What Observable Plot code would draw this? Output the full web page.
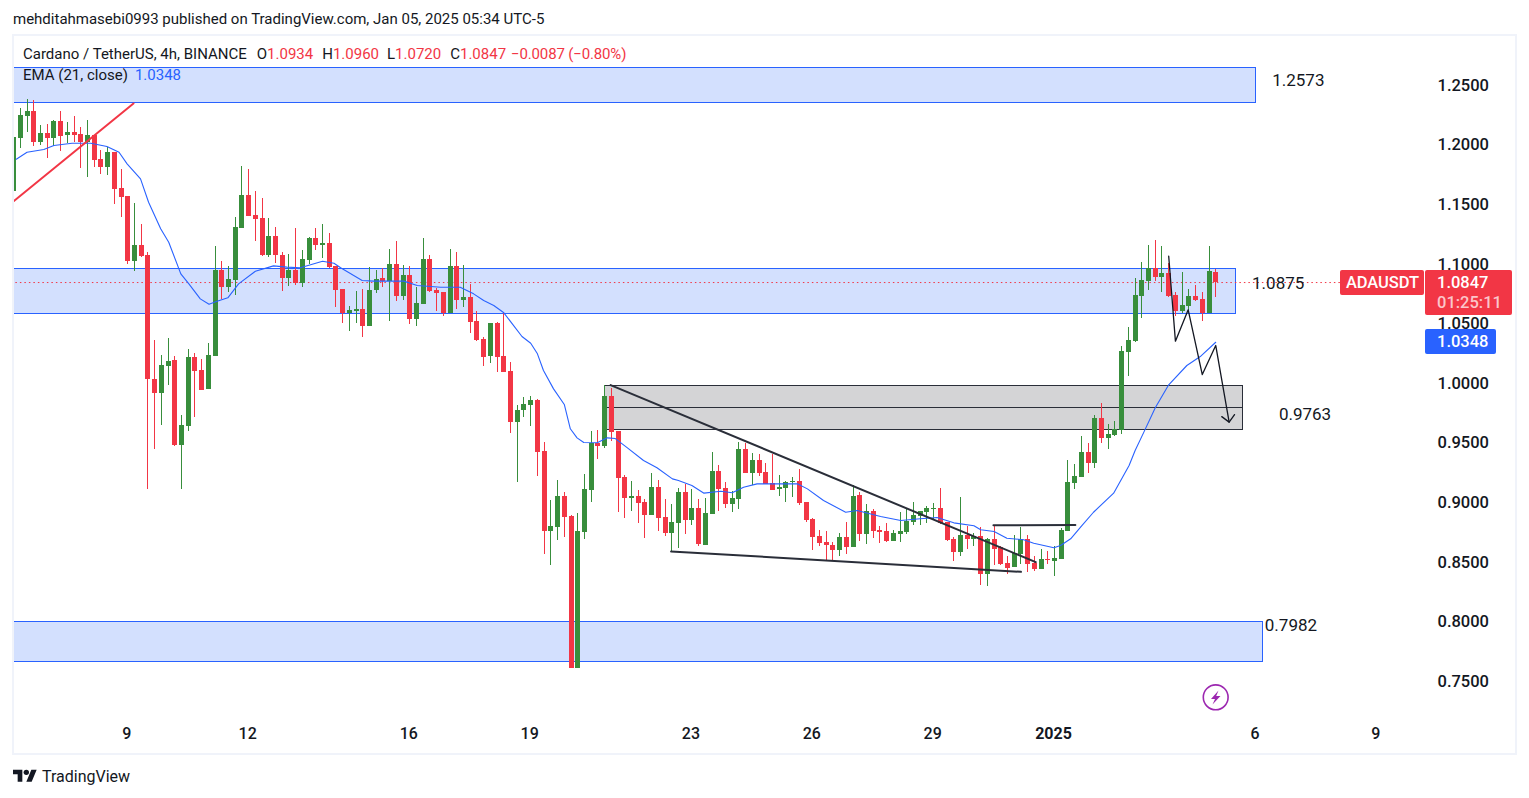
<!DOCTYPE html>
<html>
<head>
<meta charset="utf-8">
<script src="https://cdn.jsdelivr.net/npm/d3@7"></script>
<script src="https://cdn.jsdelivr.net/npm/@observablehq/plot@0.6"></script>
<style>
html,body{margin:0;padding:0;background:#fff;font-family:Roboto,sans-serif;color:#131722;overflow:hidden}
#page{position:relative;width:1529px;height:798px}
#pub{height:34px;line-height:39px;padding-left:13px;font-size:15px;color:#131722;box-sizing:border-box}
#chart{height:720px}
#chart svg{display:block}
#frame{position:absolute;left:12px;top:34px;width:1505px;height:721px;box-sizing:border-box;border:2px solid #f0f3fa;pointer-events:none}
.lg{position:absolute;left:23px;font-size:15px;white-space:pre}
.lg .gap{margin-left:9px}
.tag{position:absolute;box-sizing:border-box;color:#fff;font-size:16.5px;font-weight:500;border-radius:2px;padding-left:12px;background:#f23645}
#foot{position:absolute;left:42px;top:767px;font-size:16px;color:#131722}
</style>
</head>
<body>
<div id="page">
  <div id="pub">mehditahmasebi0993 published on TradingView.com, Jan 05, 2025 05:34 UTC-5</div>
  <div id="chart"></div>
  <div id="frame"></div>
  <div class="lg" style="top:45px">Cardano / TetherUS, 4h, BINANCE<span class="gap" style="margin-left:10px">O</span><span style="color:#f23645">1.0934</span><span class="gap">H</span><span style="color:#f23645">1.0960</span><span class="gap" style="margin-left:8px">L</span><span style="color:#f23645">1.0720</span><span class="gap">C</span><span style="color:#f23645">1.0847</span><span class="gap" style="color:#f23645;margin-left:5px;letter-spacing:-.15px">−0.0087 (−0.80%)</span></div>
  <div class="lg" style="top:66px">EMA (21, close)<span class="gap" style="color:#2962ff;margin-left:7px">1.0348</span></div>
  <div class="tag" style="left:1340px;top:270px;width:84px;height:25px;line-height:25px;padding-left:6px;letter-spacing:-.1px">ADAUSDT</div>
  <div class="tag" style="left:1425px;top:270px;width:87px;height:45px;line-height:19.5px;padding-top:3px"><div>1.0847</div><div style="color:rgba(255,255,255,.72)">01:25:11</div></div>
  <div class="tag" style="left:1425px;top:329px;width:71px;height:25px;line-height:25px;background:#2962ff">1.0348</div>
  <svg style="position:absolute;left:1200px;top:682px" width="32" height="32" viewBox="0 0 32 32"><circle cx="15.7" cy="15.3" r="12.4" fill="none" stroke="#9c27b0" stroke-width="1.6"/><path d="M18.5 8.5 L11 17 L15 17 L12.5 22.5 L20.5 14 L16.2 14 Z" fill="#9c27b0"/></svg>
  <svg style="position:absolute;left:13px;top:767px" width="24" height="18.7" viewBox="0 0 36 28"><path fill="#131722" d="M14 22H7V11H0V4h14v18zM28 22h-8l7.5-18h8L28 22z"/><circle fill="#131722" cx="20" cy="8" r="4"/></svg>
  <div id="foot">TradingView</div>
</div>
<script>
const opens = [1.1611,1.2057,1.2242,1.2282,1.2024,1.2097,1.2058,1.2198,1.2083,1.2106,
1.2089,1.2019,1.2080,1.1879,1.1815,1.1938,1.1636,1.1569,1.1026,1.1158,
1.1074,1.0031,0.9914,1.0145,1.0193,0.9482,0.9642,1.0218,1.0109,0.9952,
1.0229,1.0948,1.0808,1.0864,1.1303,1.1577,1.1409,1.1384,1.1074,1.1233,
1.1074,1.0881,1.0948,1.0841,1.1032,1.1216,1.1158,1.1174,1.0981,1.0788,
1.0585,1.0604,1.0621,1.0478,1.0780,1.0881,1.0856,1.0998,1.0730,1.0906,
1.0537,1.0663,1.1040,1.0780,1.0763,1.0585,1.0981,1.0696,1.0721,1.0520,
1.0369,1.0226,1.0503,1.0226,1.0101,0.9673,0.9773,0.9815,0.9857,0.9430,
0.8759,0.8792,0.9052,0.8884,0.7611,0.8750,0.9102,0.9497,0.9472,0.9891,
0.9597,0.9211,0.9035,0.9052,0.9001,0.8893,0.9128,0.8876,0.8741,0.8826,
0.9085,0.8851,0.8951,0.8641,0.8901,0.9262,0.9119,0.8985,0.9027,0.9446,
0.9245,0.9354,0.9253,0.9161,0.9111,0.9119,0.9169,0.9178,0.9001,0.8859,
0.8716,0.8666,0.8641,0.8599,0.8708,0.8624,0.9060,0.8733,0.8926,0.8767,
0.8759,0.8675,0.8733,0.8750,0.8834,0.8884,0.8918,0.8943,0.8951,0.8834,
0.8691,0.8582,0.8725,0.8691,0.8716,0.8398,0.8691,0.8624,0.8490,0.8457,
0.8565,0.8691,0.8490,0.8440,0.8523,0.8507,0.8523,0.8759,0.9161,0.9211,
0.9421,0.9329,0.9706,0.9541,0.9564,0.9606,1.0260,1.0352,1.0730,1.0856,
1.0965,1.0889,1.0923,1.0738,1.0604,1.0646,1.0730,1.0704,1.0587,1.0934];
const highs = [1.2248,1.2304,1.2382,1.2374,1.2164,1.2172,1.2206,1.2282,1.2189,1.2240,
1.2148,1.2206,1.2080,1.1955,1.1980,1.1938,1.1795,1.1569,1.1510,1.1334,
1.1097,1.0361,1.0232,1.0377,1.0226,0.9732,1.0285,1.0249,1.0199,1.0333,
1.1149,1.1023,1.0981,1.1390,1.1820,1.1795,1.1611,1.1555,1.1384,1.1311,
1.1099,1.1082,1.1300,1.1116,1.1225,1.1303,1.1334,1.1258,1.0981,1.0788,
1.0646,1.0772,1.0788,1.0973,1.0948,1.0965,1.1124,1.1191,1.0990,1.0981,
1.0805,1.1216,1.1074,1.0797,1.0763,1.1124,1.1099,1.0990,1.0830,1.0604,
1.0386,1.0503,1.0511,1.0596,1.0176,0.9815,0.9882,0.9891,0.9866,0.9505,
0.9018,0.9186,0.9085,0.8893,0.8910,0.9236,0.9597,0.9606,0.9983,0.9958,
0.9597,0.9228,0.9178,0.9102,0.9027,0.9245,0.9186,0.9027,0.8985,0.9119,
0.9153,0.9111,0.9027,0.9035,0.9421,0.9312,0.9169,0.9094,0.9505,0.9497,
0.9413,0.9404,0.9329,0.9404,0.9228,0.9178,0.9211,0.9278,0.9001,0.8867,
0.8767,0.8759,0.8666,0.8741,0.8834,0.9144,0.9085,0.8985,0.8943,0.8800,
0.8826,0.8767,0.8918,0.8943,0.9001,0.8926,0.8968,0.8993,0.9119,0.8834,
0.8708,0.9044,0.8800,0.8741,0.8792,0.8700,0.8809,0.8633,0.8549,0.8725,
0.8792,0.8725,0.8549,0.8607,0.8591,0.8633,0.8784,0.9354,0.9320,0.9555,
0.9497,0.9732,0.9832,0.9656,0.9681,1.0310,1.0470,1.0881,1.1015,1.1158,
1.1200,1.1149,1.1007,1.0763,1.0931,1.0788,1.0822,1.0763,1.1149,1.0960];
const lows = [1.1342,1.1974,1.2108,1.1991,1.1997,1.1890,1.1991,1.1949,1.2011,1.2022,
1.1806,1.1731,1.1809,1.1753,1.1745,1.1504,1.1395,1.0998,1.0942,1.1060,
0.9108,0.9444,0.9650,0.9986,0.9472,0.9108,0.9600,0.9717,0.9941,0.9952,
1.0226,1.0702,1.0766,1.0736,1.1303,1.1403,1.1191,1.1068,1.1054,1.1004,
1.0774,1.0814,1.0822,1.0808,1.0998,1.1116,1.1046,1.0962,1.0637,1.0506,
1.0436,1.0503,1.0386,1.0478,1.0757,1.0805,1.0520,1.0688,1.0696,1.0495,
1.0478,1.0663,1.0763,1.0604,1.0562,1.0585,1.0621,1.0637,1.0419,1.0352,
1.0143,1.0168,1.0092,1.0092,0.9580,0.9172,0.9715,0.9639,0.9220,0.8565,
0.8473,0.8683,0.8708,0.7611,0.7611,0.8691,0.9001,0.9362,0.9455,0.9513,
0.8918,0.8867,0.8926,0.8826,0.8700,0.8893,0.8759,0.8716,0.8591,0.8616,
0.8733,0.8809,0.8633,0.8641,0.8901,0.8926,0.8951,0.8918,0.8943,0.9245,
0.9144,0.9220,0.9153,0.9102,0.9052,0.9001,0.9044,0.8977,0.8834,0.8599,
0.8633,0.8515,0.8507,0.8549,0.8565,0.8624,0.8675,0.8650,0.8700,0.8658,
0.8666,0.8675,0.8666,0.8733,0.8809,0.8809,0.8826,0.8851,0.8817,0.8675,
0.8507,0.8549,0.8607,0.8633,0.8305,0.8297,0.8473,0.8473,0.8398,0.8457,
0.8482,0.8415,0.8423,0.8440,0.8482,0.8381,0.8523,0.8759,0.9111,0.9211,
0.9245,0.9287,0.9499,0.9446,0.9555,0.9572,1.0059,1.0344,1.0545,1.0780,
1.0856,1.0763,1.0721,1.0562,1.0587,1.0612,1.0688,1.0520,1.0587,1.0720];
const closes = [1.2063,1.2248,1.2282,1.2024,1.2097,1.2058,1.2198,1.2074,1.2106,1.2083,
1.2019,1.2080,1.1873,1.1815,1.1938,1.1630,1.1563,1.1026,1.1158,1.1068,
1.0031,0.9914,1.0151,1.0184,0.9482,0.9645,1.0218,1.0103,0.9944,1.0235,
1.0948,1.0808,1.0872,1.1309,1.1577,1.1403,1.1376,1.1074,1.1231,1.1074,
1.0881,1.0948,1.0841,1.1040,1.1216,1.1158,1.1174,1.0976,1.0780,1.0585,
1.0612,1.0621,1.0478,1.0780,1.0870,1.0856,1.0998,1.0730,1.0906,1.0537,
1.0671,1.1040,1.0772,1.0755,1.0585,1.0981,1.0696,1.0721,1.0511,1.0361,
1.0218,1.0503,1.0218,1.0092,0.9673,0.9773,0.9824,0.9857,0.9421,0.8759,
0.8800,0.9052,0.8876,0.7611,0.8759,0.9111,0.9497,0.9472,0.9891,0.9589,
0.9203,0.9035,0.9052,0.8993,0.8893,0.9128,0.8867,0.8741,0.8834,0.9085,
0.8851,0.8951,0.8650,0.8910,0.9262,0.9111,0.8985,0.9035,0.9446,0.9245,
0.9354,0.9245,0.9153,0.9102,0.9128,0.9169,0.9178,0.8993,0.8851,0.8708,
0.8658,0.8641,0.8599,0.8708,0.8624,0.9052,0.8733,0.8926,0.8759,0.8750,
0.8675,0.8741,0.8759,0.8842,0.8893,0.8926,0.8951,0.8951,0.8826,0.8683,
0.8582,0.8725,0.8691,0.8716,0.8398,0.8691,0.8607,0.8482,0.8448,0.8574,
0.8691,0.8482,0.8440,0.8523,0.8515,0.8532,0.8767,0.9169,0.9220,0.9421,
0.9329,0.9706,0.9541,0.9572,0.9612,1.0268,1.0361,1.0738,1.0864,1.0965,
1.0889,1.0923,1.0730,1.0604,1.0654,1.0730,1.0696,1.0587,1.0939,1.0847];

const emaBars = [0.4,2,4.5,6,8.7,11.5,13.9,15.7,16.9,18.9,20.1,21.9,23.1,24.9,26.1,27.8,29.1,30.3,31.9,33.5,36,38.7,40.7,42.7,46,47.7,48.7,51.9,53.6,58.1,60.1,63.6,66.5,68.5,70,71.5,73,75.7,77,78,78.9,80.4,82,82.9,83.9,84.9,86.9,88.4,89.6,91.4,93.8,95.8,98.1,99,101,102.8,105.3,107,108.7,110.7,113.7,116.7,118.2,120.6,123.9,125.6,129.1,132.1,135,137.5,140,143,144,146,147.9,150.4,151.9,154.9,155.9,157.4,159.1,160.8,163.8,166.1,167,168.3,170,172,174.7,176.7,179];
const emaValues = [1.1882,1.1940,1.1963,1.1997,1.2016,1.2016,1.1988,1.1940,1.1843,1.1717,1.1521,1.1298,1.1185,1.0920,1.0836,1.0710,1.0665,1.0690,1.0719,1.0836,1.0942,1.0987,1.0976,1.0971,1.1026,1.1009,1.0971,1.0864,1.0859,1.0859,1.0822,1.0808,1.0808,1.0752,1.0696,1.0654,1.0593,1.0394,1.0338,1.0249,1.0109,0.9955,0.9824,0.9620,0.9544,0.9505,0.9503,0.9544,0.9538,0.9460,0.9354,0.9293,0.9200,0.9186,0.9144,0.9080,0.9096,0.9083,0.9130,0.9158,0.9158,0.9158,0.9116,0.9018,0.8920,0.8935,0.8884,0.8851,0.8865,0.8876,0.8831,0.8806,0.8773,0.8758,0.8702,0.8689,0.8660,0.8622,0.8641,0.8697,0.8809,0.8920,0.9080,0.9312,0.9438,0.9592,0.9796,0.9989,1.0151,1.0226,1.0346];

const tickBars = [17,35,59,77,101,119,137,185,203];
const tickDays = ["9","12","16","19","23","26","29","6","9"];
const yearBar = 155;
const priceTicks = [0.75,0.80,0.85,0.90,0.95,1.00,1.05,1.10,1.15,1.20,1.25];
const lastClose = 1.0847;

const blueZones = [
  {x1:-1, x2:185, top:1.2643, bottom:1.2349},
  {x1:-1, x2:182, top:1.0962, bottom:1.0585},
  {x1:-1, x2:186, top:0.8001, bottom:0.7665}
];
const greyZone = {x1:88, x2:183.05, top:0.9983, mid:0.9796, bottom:0.9612};
const levelTexts = [
  {x:191.3, at:1.2540, text:"1.2573"},
  {x:188.3, at:1.0839, text:"1.0875"},
  {x:192.3, at:0.9740, text:"0.9763"},
  {x:190.2, at:0.7970, text:"0.7982"}
];
const redTrend = [[0,1.1529],[17.85,1.2349]];
const fallingTrend = [[88.9,0.9987],[152.2,0.8501]];
const lowerTrend = [[97.9,0.8591],[150,0.8420]];
const breakLine = [[145.9,0.8811],[158.1,0.8812]];
const projection = [[172,1.1068],[173,1.0355],[174.9,1.0618],[177,1.0075],[179,1.0319],[181,0.9676]];
const arrowHead = [[179.9,0.9722],[181,0.9676],[181.8,0.9739]];

const GREEN = "#388e3c", RED = "#f23645", BLUE = "#2962ff", INK = "#2a2e39";
const candles = opens.map((o,i)=>({i,o,h:highs[i],l:lows[i],c:closes[i]}));
const ema = emaBars.map((x,k)=>({x,v:emaValues[k]}));
const col = d => d.c >= d.o ? GREEN : RED;
const seg = (pts,opt) => Plot.line(pts,{x:d=>d[0],y:d=>d[1],clip:"frame",...opt});

const fig = Plot.plot({
  width:1529, height:720,
  marginLeft:13, marginRight:92, marginTop:2, marginBottom:30,
  style:{fontFamily:"Roboto, sans-serif", background:"transparent", overflow:"visible"},
  x:{type:"linear", domain:[0,203], range:[13.1,1376.4]},
  y:{type:"linear", domain:[0.75,1.25], range:[647,51]},
  marks:[
    Plot.rect(blueZones,{x1:"x1",x2:"x2",y1:"bottom",y2:"top",fill:"#d3e0fe",stroke:BLUE,strokeWidth:1,clip:"frame",shapeRendering:"crispEdges"}),
    Plot.rect([greyZone],{x1:"x1",x2:"x2",y1:"bottom",y2:"top",fill:"#d4d4d6",stroke:INK,strokeWidth:1,clip:"frame",shapeRendering:"crispEdges"}),
    Plot.ruleY([greyZone],{y:"mid",x1:"x1",x2:"x2",stroke:INK,strokeWidth:1,shapeRendering:"crispEdges"}),
    Plot.ruleY([lastClose],{x1:-1,x2:197.6,stroke:RED,strokeWidth:1,strokeDasharray:"1.5 3",clip:"frame"}),
    Plot.ruleX(candles,{x:"i",y1:"l",y2:"h",stroke:col,strokeWidth:1,clip:"frame",shapeRendering:"crispEdges"}),
    Plot.ruleX(candles,{x:"i",y1:"o",y2:"c",stroke:col,strokeWidth:5,clip:"frame",shapeRendering:"crispEdges"}),
    Plot.line(ema,{x:"x",y:"v",stroke:BLUE,strokeWidth:1.1,curve:"linear",clip:"frame"}),
    seg(redTrend,{stroke:RED,strokeWidth:2}),
    seg(fallingTrend,{stroke:INK,strokeWidth:2}),
    seg(lowerTrend,{stroke:INK,strokeWidth:2}),
    seg(breakLine,{stroke:INK,strokeWidth:2}),
    seg(projection,{stroke:"#131722",strokeWidth:1.3}),
    seg(arrowHead,{stroke:"#131722",strokeWidth:1.3}),
    Plot.text(levelTexts,{x:"x",y:"at",text:"text",fontSize:17,fill:"#131722"}),
    Plot.axisY({anchor:"right",ticks:priceTicks,tickSize:0,tickPadding:0,tickFormat:d3.format(".4f"),fontSize:16.5,fontWeight:500,fill:"#131722",label:null}),
    Plot.axisX({ticks:tickBars,tickSize:0,tickPadding:3,dx:-1,tickFormat:d=>tickDays[tickBars.indexOf(d)],fontSize:16,fontWeight:500,fill:"#131722",label:null}),
    Plot.axisX({ticks:[yearBar],tickSize:0,tickPadding:3,dx:-1,tickFormat:()=>"2025",fontSize:16,fontWeight:700,fill:"#131722",label:null})
  ]
});
document.getElementById("chart").appendChild(fig);
</script>
</body>
</html>
